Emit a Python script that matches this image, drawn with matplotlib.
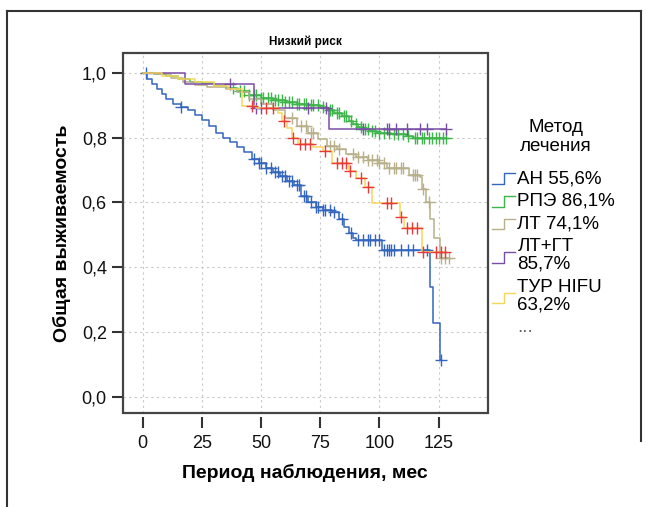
#!/usr/bin/env python3

import numpy as np
import matplotlib
matplotlib.use("Agg")
import matplotlib.pyplot as plt
from matplotlib.lines import Line2D
from matplotlib.patches import Rectangle
from matplotlib.legend_handler import HandlerBase

"""
Kaplan-Meier curves, low risk group
"""

# step points (time, survival) and censored times per group
an_t = [0, 2, 4, 6, 8, 10, 13, 16, 19, 22, 25, 28, 31, 34, 37, 40, 43, 46, 49, 52, 55, 58, 61,
        64, 67, 70, 73, 76, 80, 83, 85, 87, 89, 90, 101, 121.5, 122.5, 125.5]
an_s = [1.0, 0.98, 0.965, 0.95, 0.935, 0.92, 0.905, 0.895, 0.885, 0.87, 0.855, 0.835, 0.815, 0.8,
        0.785, 0.77, 0.755, 0.735, 0.72, 0.705, 0.695, 0.68, 0.665, 0.655, 0.62, 0.6, 0.585, 0.578,
        0.57, 0.548, 0.525, 0.505, 0.49, 0.483, 0.452, 0.338, 0.228, 0.114]
an_c = [1.5, 16, 47, 49, 50, 52, 54, 56, 57, 59, 60, 62, 63, 65, 66, 68, 69, 71, 73, 74, 76, 77,
        79, 81, 84, 88, 91, 93, 95, 96, 98, 100, 102, 103, 104, 105, 106, 109, 112, 114, 120, 126]

rpe_t = [0, 5, 10, 15, 20, 25, 30, 35, 40, 45, 50, 55, 60, 65, 70, 75, 78, 81, 84, 87, 89, 91,
         93, 96, 99, 105, 111, 114]
rpe_s = [1.0, 0.995, 0.99, 0.98, 0.972, 0.967, 0.96, 0.953, 0.945, 0.932, 0.922, 0.915, 0.91,
         0.905, 0.9, 0.893, 0.885, 0.875, 0.865, 0.852, 0.842, 0.832, 0.826, 0.82, 0.815, 0.81,
         0.806, 0.8]
rpe_c = [38, 41, 43, 45, 47, 48, 50, 51, 53, 54, 56, 57, 59, 60, 62, 63, 65, 66, 68, 69, 71, 72,
         74, 76, 79, 80, 82, 83, 85, 86, 88, 90, 92, 94, 95, 97, 98, 100, 102, 104, 106, 108, 110,
         112, 115, 116, 118, 119, 121, 122, 124, 125, 127, 128]

lt_t = [0, 5, 12, 17, 22, 27, 35, 40, 45, 50, 55, 60, 65, 70, 74, 78, 82, 86, 90, 95, 100, 103,
        112.5, 117, 118, 119.5, 121.5, 123, 125.4]
lt_s = [1.0, 0.995, 0.985, 0.97, 0.962, 0.955, 0.95, 0.94, 0.92, 0.905, 0.885, 0.86, 0.835, 0.815,
        0.795, 0.775, 0.765, 0.75, 0.74, 0.73, 0.72, 0.705, 0.683, 0.677, 0.64, 0.6, 0.55, 0.49, 0.43]
lt_c = [63, 67, 69, 71, 72, 79, 81, 83, 89, 91, 93, 95, 97, 99, 100, 102, 104, 106, 107, 109, 110,
        114, 115, 116, 118.5, 121, 126, 127.5, 129.5]

ltgt_t = [0, 18, 47, 78.5]
ltgt_s = [1.0, 0.965, 0.89, 0.827]
ltgt_c = [37, 48, 50, 70, 77.5, 93, 103, 104, 107, 111.5, 117, 120, 128]

tur_t = [0, 8, 15, 22, 30, 36, 42, 48, 57, 59, 61, 63, 65.5, 72, 76, 80, 87, 90, 94, 97, 108.5,
         110.5, 117.8]
tur_s = [1.0, 0.99, 0.98, 0.97, 0.96, 0.95, 0.898, 0.89, 0.875, 0.85, 0.83, 0.8, 0.78, 0.77, 0.76,
         0.723, 0.698, 0.674, 0.646, 0.597, 0.556, 0.52, 0.446]
tur_c = [46, 52, 55, 59.5, 63.5, 66.5, 68.5, 70.5, 77, 82, 84, 86, 87.5, 92, 95, 103, 105, 109,
         111.5, 113.6, 115.7, 118.5, 124, 126, 127.5]

labels = ["АН 55,6%", "РПЭ 86,1%", "ЛТ 74,1%", "ЛТ+ГТ\n85,7%", "ТУР HIFU\n63,2%"]
colors = ["#3466bd", "#3db54a", "#b8b08a", "#7a4ea6", "#f5d65c"]
censor_colors = ["#3466bd", "#3db54a", "#b8b08a", "#7a4ea6", "#e8393c"]

x_ticks = [0, 25, 50, 75, 100, 125]
y_ticks = [0.0, 0.2, 0.4, 0.6, 0.8, 1.0]
y_tick_labels = ["0,0", "0,2", "0,4", "0,6", "0,8", "1,0"]


class StepHandler(HandlerBase):
    def create_artists(self, legend, orig_handle, xdescent, ydescent, width, height, fontsize, trans):
        x0 = -xdescent
        xm = x0 + width * 0.5
        x1 = x0 + width
        y0 = -ydescent - height * 0.05
        y1 = -ydescent + height * 0.75
        ln = Line2D([x0, xm, xm, x1], [y0, y0, y1, y1], color=orig_handle.get_color(),
                    lw=1.0, transform=trans)
        return [ln]


def surv_at(t, s, x):
    idx = np.searchsorted(np.array(t), x, side="right") - 1
    return np.array(s)[idx]


def main():
    plt.rcParams["font.family"] = ["Liberation Sans", "DejaVu Sans"]
    fig = plt.figure(figsize=(6.46, 5.07), dpi=100)
    ax = fig.add_axes([0.190, 0.185, 0.565, 0.71])

    groups = [(an_t, an_s, an_c), (rpe_t, rpe_s, rpe_c), (lt_t, lt_s, lt_c),
              (ltgt_t, ltgt_s, ltgt_c), (tur_t, tur_s, tur_c)]
    handles = []
    for (t, s, c), lab, col, ccol in zip(groups, labels, colors, censor_colors):
        end = max(max(c), t[-1])
        tt = list(t) + [end]
        ss = list(s) + [s[-1]]
        ln, = ax.step(tt, ss, where="post", color=col, lw=1.1, label=lab)
        handles.append(ln)
        ax.plot(c, surv_at(t, s, c), "+", color=ccol, ms=8, mew=1.0, ls="none")
    dots = Line2D([], [], color="none", label="...")
    handles.append(dots)

    ax.set_xlim(-8.4, 145.7)
    ax.set_ylim(-0.05, 1.06)
    ax.set_xticks(x_ticks)
    ax.set_yticks(y_ticks)
    ax.set_yticklabels(y_tick_labels)
    ax.grid(True, ls=(0, (2, 3)), color="#c8c8c8", lw=0.8)

    for sp in ax.spines.values():
        sp.set_visible(False)
    ax.spines["bottom"].set_position(("outward", 3))
    ax.add_patch(Rectangle((0, 0), 1, 1, transform=ax.transAxes, fill=False,
                           ec="#444444", lw=1.6, clip_on=False, zorder=5))
    ax.tick_params(axis="both", direction="out", length=8, width=1.5, color="#333333",
                   labelsize=13, labelcolor="#111111")
    ax.tick_params(axis="x", pad=5)

    ax.set_xlabel("Период наблюдения, мес", fontsize=14, fontweight="bold", labelpad=8)
    ax.set_ylabel("Общая выживаемость", fontsize=14, fontweight="bold", labelpad=8)
    ax.set_title("Низкий риск", fontsize=8.5, fontweight="bold", pad=6)

    fig.text(556 / 646, 1 - 137 / 507, "Метод\nлечения", fontsize=13.5, ha="center",
             va="center", linespacing=1.1)
    leg = fig.legend(handles=handles, loc="upper left", bbox_to_anchor=(492 / 646, 1 - 170 / 507),
                     frameon=False, fontsize=13.5, handler_map={Line2D: StepHandler()},
                     handlelength=1.25, handletextpad=0.1, labelspacing=0.3,
                     borderaxespad=0, borderpad=0)
    for txt in leg.get_texts():
        txt.set_linespacing(1.05)
    leg.get_texts()[-1].set_color("#666666")

    # outer frame
    for xs, ys in [([0.011, 0.011], [0.0, 0.978]), ([0.011, 0.992], [0.978, 0.978]),
                   ([0.992, 0.992], [0.978, 0.13])]:
        fig.add_artist(Line2D(xs, ys, transform=fig.transFigure, color="#333333", lw=1.5))

    fig.savefig("out.png", dpi=100)


if __name__ == "__main__":
    main()
